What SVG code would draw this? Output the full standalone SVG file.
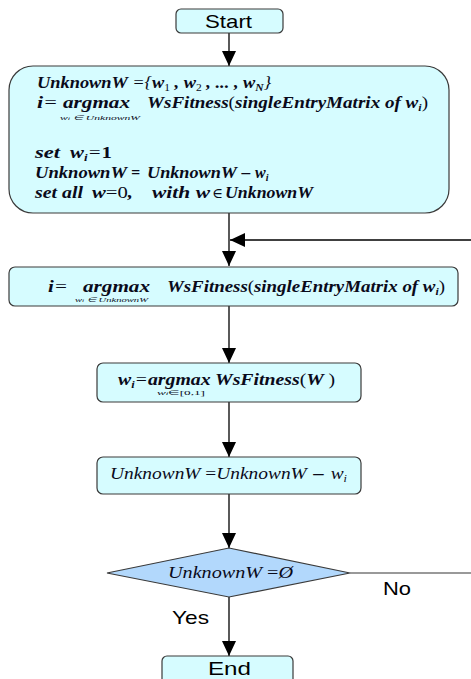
<svg xmlns="http://www.w3.org/2000/svg" width="471" height="679" viewBox="0 0 471 679">
<style>
.box{fill:#d6fcff;stroke:#3a3a3a;stroke-width:1.2}
.dia{fill:#b2d8fc;stroke:#3a3a3a;stroke-width:1.2}
.lbl{font-family:"Liberation Sans",Arial,sans-serif;fill:#000}
.m{font-family:"Liberation Serif","Times New Roman",serif;font-style:italic;font-weight:bold;fill:#0a0a1a;font-size:16px}
.mr{font-family:"Liberation Serif","Times New Roman",serif;font-style:italic;fill:#0a0a1a;font-size:16px}
.s{font-family:"Liberation Serif","Times New Roman",serif;font-style:italic;fill:#0a0a1a;font-size:7px}
.op{font-family:"DejaVu Serif",serif;font-style:normal;font-weight:normal;fill:#0a0a1a;font-size:14px}
.ln{fill:none;stroke:#000;stroke-width:1.3}
.lg{fill:none;stroke:#777;stroke-width:1.3}
</style>
<defs>
<marker id="ah" viewBox="0 0 15 14" refX="15" refY="7" markerWidth="15" markerHeight="14" markerUnits="userSpaceOnUse" orient="auto">
<path d="M0,0 L15,7 L0,14 z" fill="#000"/>
</marker>
</defs>
<rect width="471" height="679" fill="#fff"/>
<g id="connectors">
<line class="ln" x1="229" y1="33" x2="229" y2="66" marker-end="url(#ah)"/>
<line class="ln" x1="229" y1="213" x2="229" y2="266" marker-end="url(#ah)"/>
<line class="ln" x1="471" y1="240" x2="230" y2="240" marker-end="url(#ah)"/>
<line class="ln" x1="229" y1="306" x2="229" y2="363" marker-end="url(#ah)"/>
<line class="ln" x1="229" y1="402" x2="229" y2="457" marker-end="url(#ah)"/>
<line class="ln" x1="229" y1="494" x2="229" y2="548" marker-end="url(#ah)"/>
<line class="ln" x1="229" y1="597" x2="229" y2="656" marker-end="url(#ah)"/>
<line class="lg" x1="350" y1="573" x2="471" y2="573"/>
<text class="lbl" x="383" y="595" font-size="19" textLength="28" lengthAdjust="spacingAndGlyphs">No</text>
<text class="lbl" x="172" y="624" font-size="19" textLength="37" lengthAdjust="spacingAndGlyphs">Yes</text>
</g>
<g id="start">
<rect class="box" x="176" y="9" width="107" height="24" rx="5"/>
<text class="lbl" x="205" y="28" font-size="19" textLength="47" lengthAdjust="spacingAndGlyphs">Start</text>
</g>
<g id="init">
<rect class="box" x="9" y="66" width="440" height="147" rx="24"/>
<text class="m" x="37" y="88" textLength="234" lengthAdjust="spacingAndGlyphs">UnknownW <tspan font-weight="normal">={</tspan>w<tspan dy="3" font-size="10" font-style="normal" font-weight="normal">1</tspan><tspan dy="-3"> , w</tspan><tspan dy="3" font-size="10" font-style="normal" font-weight="normal">2</tspan><tspan dy="-3"> , ... , w</tspan><tspan dy="3" font-size="10">N</tspan><tspan dy="-3" font-weight="normal">}</tspan></text>
<text class="m" x="37" y="108" textLength="21" lengthAdjust="spacingAndGlyphs">i<tspan font-weight="normal">=</tspan></text>
<text class="m" x="63" y="108" textLength="67" lengthAdjust="spacingAndGlyphs">argmax</text>
<text class="s" x="60" y="120" textLength="80" lengthAdjust="spacingAndGlyphs">w<tspan font-size="5">i</tspan> ∈ UnknownW</text>
<text class="m" x="147" y="108" textLength="281" lengthAdjust="spacingAndGlyphs">WsFitness<tspan font-weight="normal" font-style="normal">(</tspan>singleEntryMatrix of w<tspan dy="3" font-size="10">i</tspan><tspan dy="-3" font-weight="normal" font-style="normal">)</tspan></text>
<text class="m" x="35" y="158" textLength="25" lengthAdjust="spacingAndGlyphs">set</text>
<text class="m" x="70" y="158" textLength="42" lengthAdjust="spacingAndGlyphs">w<tspan dy="3" font-size="10">i</tspan><tspan dy="-3" font-weight="normal">=</tspan><tspan font-style="normal">1</tspan></text>
<text class="m" x="35" y="178" textLength="92" lengthAdjust="spacingAndGlyphs">UnknownW</text>
<text class="m" x="131" y="178" font-weight="normal" font-style="normal">=</text>
<text class="m" x="147" y="178" textLength="90" lengthAdjust="spacingAndGlyphs">UnknownW</text>
<text class="op" x="240" y="178" textLength="12" lengthAdjust="spacingAndGlyphs">−</text>
<text class="m" x="255" y="178">w<tspan dy="3" font-size="10">i</tspan></text>
<text class="m" x="35" y="198" textLength="48" lengthAdjust="spacingAndGlyphs">set all</text>
<text class="m" x="92" y="198" textLength="41" lengthAdjust="spacingAndGlyphs">w<tspan font-weight="normal" font-style="normal">=0</tspan>,</text>
<text class="m" x="152" y="198" textLength="58" lengthAdjust="spacingAndGlyphs">with w</text>
<text class="op" x="212" y="198" font-size="18" textLength="11" lengthAdjust="spacingAndGlyphs">∈</text>
<text class="m" x="225" y="198" textLength="88" lengthAdjust="spacingAndGlyphs">UnknownW</text>
</g>
<g id="select">
<rect class="box" x="9" y="267" width="449" height="39" rx="6"/>
<text class="m" x="48" y="292" textLength="20" lengthAdjust="spacingAndGlyphs">i<tspan font-weight="normal">=</tspan></text>
<text class="m" x="83" y="292" textLength="67" lengthAdjust="spacingAndGlyphs">argmax</text>
<text class="s" x="75" y="302" textLength="73" lengthAdjust="spacingAndGlyphs">w<tspan font-size="5">i</tspan> ∈ UnknownW</text>
<text class="m" x="167" y="292" textLength="278" lengthAdjust="spacingAndGlyphs">WsFitness<tspan font-weight="normal" font-style="normal">(</tspan>singleEntryMatrix of w<tspan dy="3" font-size="10">i</tspan><tspan dy="-3" font-weight="normal" font-style="normal">)</tspan></text>
</g>
<g id="optimize">
<rect class="box" x="97" y="363" width="264" height="39" rx="6"/>
<text class="m" x="118" y="385" textLength="217" lengthAdjust="spacingAndGlyphs">w<tspan dy="3" font-size="10">i</tspan><tspan dy="-3" font-weight="normal">=</tspan>argmax WsFitness<tspan font-weight="normal" font-style="normal">(</tspan>W <tspan font-weight="normal" font-style="normal">)</tspan></text>
<text class="s" x="157" y="395" textLength="48" lengthAdjust="spacingAndGlyphs">w<tspan font-size="5">i</tspan><tspan font-style="normal">∈[0,1]</tspan></text>
</g>
<g id="remove">
<rect class="box" x="97" y="457" width="264" height="37" rx="6"/>
<text class="mr" x="110" y="479" textLength="237" lengthAdjust="spacingAndGlyphs">UnknownW <tspan font-style="normal">=</tspan>UnknownW <tspan class="op">−</tspan> w<tspan dy="3" font-size="10">i</tspan></text>
</g>
<g id="check">
<polygon class="dia" points="107,573 229,548 350,573 229,597"/>
<text class="mr" x="168" y="578" textLength="125" lengthAdjust="spacingAndGlyphs">UnknownW <tspan font-style="normal">=</tspan>Ø</text>
</g>
<g id="end">
<rect class="box" x="162" y="656" width="131" height="40" rx="5"/>
<text class="lbl" x="208" y="675" font-size="19" textLength="43" lengthAdjust="spacingAndGlyphs">End</text>
</g>
</svg>
